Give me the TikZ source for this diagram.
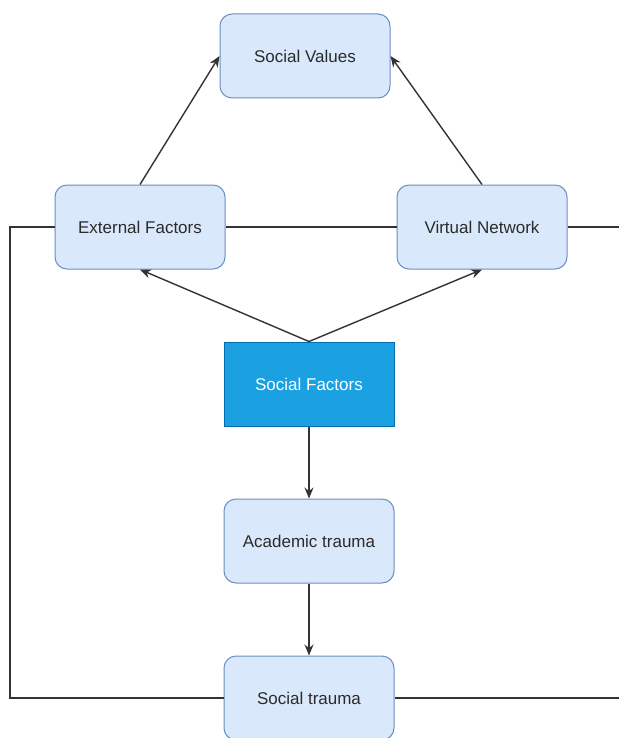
\documentclass[tikz,border=0pt]{standalone}
\usepackage{fontspec}
\setmainfont{Liberation Sans}
\usepackage{tikz}
\usetikzlibrary{arrows.meta}

\definecolor{boxfill}{HTML}{DAE8FC}
\definecolor{boxline}{HTML}{6C8EBF}
\definecolor{keyfill}{HTML}{1BA1E2}
\definecolor{keyline}{HTML}{006EAF}
\definecolor{txt}{HTML}{2B2B2B}

\tikzset{
    box/.style={draw=boxline, fill=boxfill, rounded corners=6pt, line width=0.5pt,
        minimum width=85pt, minimum height=42pt, text=txt, font=\fontsize{8.5}{10}\selectfont},
    keybox/.style={box, draw=keyline, fill=keyfill, rounded corners=0pt, text=white},
    link/.style={draw=black!80, line width=0.7pt},
    arr/.style={link, -{Stealth[length=5.5pt, width=4.5pt]}}
}

\begin{document}
\begin{tikzpicture}[x=0.5pt, y=-0.5pt]
        \useasboundingbox (0,0) rectangle (619,738);
        \clip (0,0) rectangle (619,738);

        % Boxes
        \node[box] (sv) at (305,56) {Social Values};
        \node[box] (ef) at (140,227) {External Factors};
        \node[box] (vn) at (482,227) {Virtual Network};
        \node[keybox] (sf) at (309,384) {Social Factors};
        \node[box] (at) at (309,541) {Academic trauma};
        \node[box] (st) at (309,698) {Social trauma};

        % Free ends of the loop
        \coordinate (lc) at (10,227);
        \coordinate (rtop) at (625,227);
        \coordinate (rbot) at (625,698);

        % Arrows
        \draw[arr] (ef.north) -- (sv.west);
        \draw[arr] (vn.north) -- (sv.east);
        \draw[arr] (sf.north) -- (ef.south);
        \draw[arr] (sf.north) -- (vn.south);
        \draw[arr] (sf.south) -- (at.north);
        \draw[arr] (at.south) -- (st.north);

        % Loop lines
        \draw[link] (ef.east) -- (vn.west);
        \draw[link] (vn.east) -- (rtop);
        \draw[link] (ef.west) -- (lc) |- (st.west);
        \draw[link] (st.east) -- (rbot);
    \end{tikzpicture}
\end{document}
